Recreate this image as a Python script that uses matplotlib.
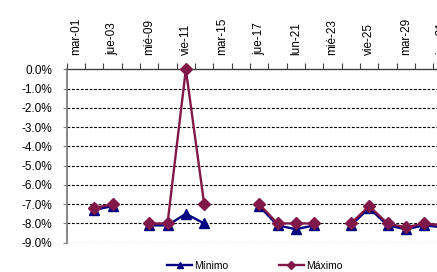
import matplotlib
matplotlib.use('Agg')
import matplotlib.pyplot as plt
import numpy as np

plt.rcParams['font.family'] = ['Liberation Sans', 'DejaVu Sans']

# trading days (category axis), labels shown every other day
fechas = ['mar-01', 'mié-02', 'jue-03', 'vie-04', 'mié-09', 'jue-10', 'vie-11',
          'lun-14', 'mar-15', 'mié-16', 'jue-17', 'vie-18', 'lun-21', 'mar-22',
          'mié-23', 'jue-24', 'vie-25', 'lun-28', 'mar-29', 'mié-30', 'jue-31']
nan = np.nan
minimo = [nan, -7.3, -7.1, nan, -8.1, -8.1, -7.5, -8.0, nan, nan, -7.1,
          -8.1, -8.3, -8.1, nan, -8.1, -7.2, -8.1, -8.3, -8.1, -8.2]
maximo = [nan, -7.2, -7.0, nan, -8.0, -8.0, 0.0, -7.0, nan, nan, -7.0,
          -8.0, -8.0, -8.0, nan, -8.0, -7.1, -8.0, -8.2, -8.0, -8.1]

x = np.arange(len(fechas))

fig = plt.figure(figsize=(4.37, 2.72), dpi=100)
# plot area runs past the right edge, like the cropped original
ax = fig.add_axes([0.1526, 0.1077, 0.881, 0.6375])

for v in np.arange(-1, -10, -1):
    ax.axhline(v, color='black', lw=0.8, ls=(0, (2.5, 1.5)), zorder=1)

ax.plot(x, minimo, color='#000080', lw=1.7, marker='^', ms=7, clip_on=False,
        zorder=3, label='Mínimo')
ax.plot(x, maximo, color='#80184A', lw=1.7, marker='D', ms=6.5, clip_on=False,
        zorder=4, label='Máximo')

ax.set_xlim(-0.5, len(fechas) - 0.5)
ax.set_ylim(-9, 0)

ax.xaxis.tick_top()
ax.set_xticks(np.arange(len(fechas) + 1) - 0.5)
ax.set_xticklabels([])
ax.set_xticks(x[::2], minor=True)
ax.set_xticklabels(fechas[::2], minor=True, rotation=90, fontsize=8.5)
ax.tick_params(axis='x', which='major', direction='out', length=4, width=0.8,
               color='#404040', top=True, bottom=False)
ax.tick_params(axis='x', which='minor', length=0, pad=10, top=True, bottom=False)

ax.set_yticks(np.arange(0, -10, -1))
ax.set_yticklabels(['%.1f%%' % v for v in np.arange(0, -10, -1)], fontsize=8.5)
ax.tick_params(axis='y', direction='out', length=3, width=0.8, color='#808080', pad=7.5)

ax.spines['right'].set_visible(False)
ax.spines['bottom'].set_visible(False)
ax.spines['top'].set_color('#404040')
ax.spines['top'].set_linewidth(1.0)
ax.spines['left'].set_color('#808080')
ax.spines['left'].set_linewidth(1.3)

fig.legend(loc='center', bbox_to_anchor=(0.583, 0.022), ncol=2, frameon=False,
           fontsize=7.5, handlelength=2.4, columnspacing=4.8, handletextpad=0.2,
           borderpad=0, markerscale=0.6)

fig.savefig('out.png', dpi=100)
